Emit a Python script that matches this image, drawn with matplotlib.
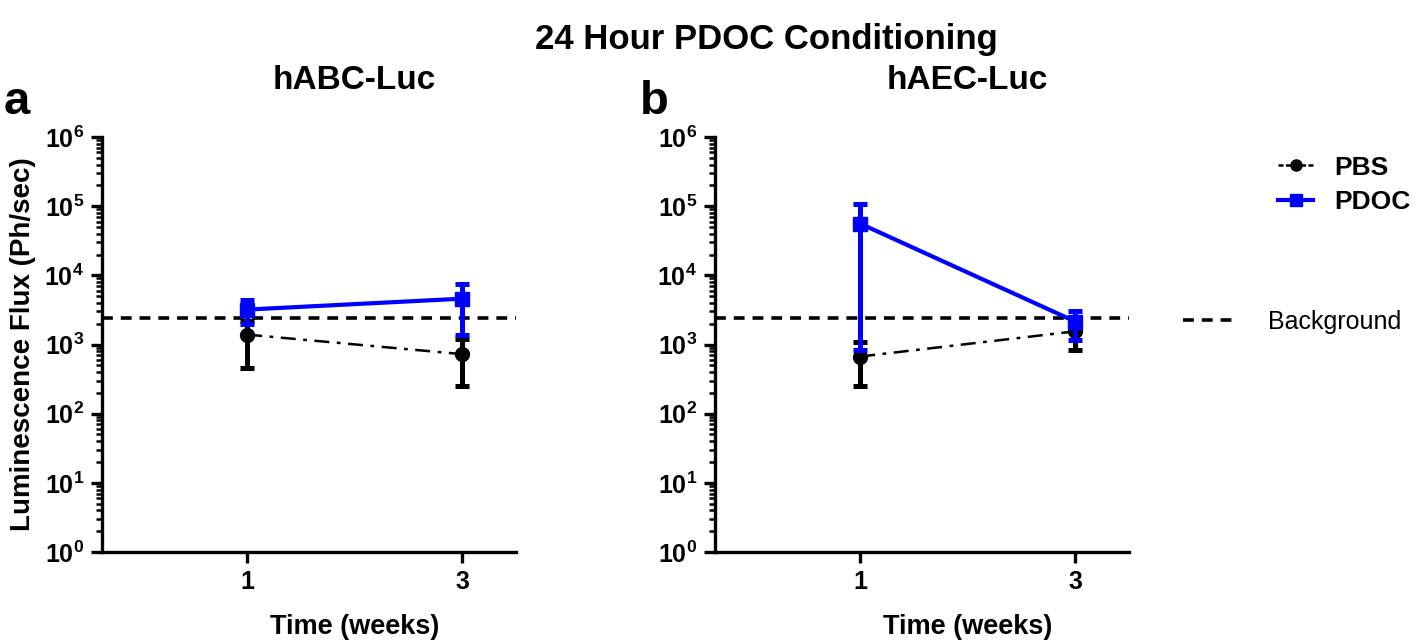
import numpy as np
import matplotlib
matplotlib.use("Agg")
import matplotlib.pyplot as plt
from matplotlib.lines import Line2D
from matplotlib.ticker import FixedLocator, LogLocator, NullFormatter

plt.rcParams["font.family"] = ["Liberation Sans", "DejaVu Sans"]
plt.rcParams["font.weight"] = "bold"
plt.rcParams["mathtext.fontset"] = "custom"
plt.rcParams["mathtext.rm"] = "Liberation Sans:bold"
plt.rcParams["mathtext.bf"] = "Liberation Sans:bold"
plt.rcParams["mathtext.it"] = "Liberation Sans:bold"

# data
weeks = [1, 3]
background = 2400

# panel a: hABC-Luc
a_pbs = [1390, 725]
a_pbs_lo = [465, 255]
a_pbs_hi = [2200, 1200]
a_pdoc = [3200, 4600]
a_pdoc_lo = [1950, 1350]
a_pdoc_hi = [4400, 7600]

# panel b: hAEC-Luc
b_pbs = [670, 1550]
b_pbs_lo = [255, 820]
b_pbs_hi = [1100, 2300]
b_pdoc = [56000, 2150]
b_pdoc_lo = [820, 1180]
b_pdoc_hi = [108000, 3100]

W, H = 1418, 643
fig = plt.figure(figsize=(W / 100, H / 100), dpi=100)


def make_axes(left_px):
    bottom, top = 552, 137
    return fig.add_axes([left_px / W, 1 - bottom / H, 414 / W, (bottom - top) / H])


def draw_panel(ax, pbs, pbs_lo, pbs_hi, pdoc, pdoc_lo, pdoc_hi, title):
    pbs = np.array(pbs)
    pdoc = np.array(pdoc)
    yerr_pbs = [pbs - np.array(pbs_lo), np.array(pbs_hi) - pbs]
    yerr_pdoc = [pdoc - np.array(pdoc_lo), np.array(pdoc_hi) - pdoc]

    ax.axhline(background, color="black", ls=(0, (3, 2.2)), lw=2.6, zorder=1)
    ax.errorbar(weeks, pbs, yerr=yerr_pbs, color="black", ls=(0, (6, 3, 1.5, 3)), lw=1.8,
                marker="o", ms=10, elinewidth=3.6, capsize=5, capthick=3.6, zorder=2)
    ax.errorbar(weeks, pdoc, yerr=yerr_pdoc, color="#0000ff", ls="-", lw=3,
                marker="s", ms=9.5, elinewidth=3.6, capsize=5, capthick=3.6, zorder=3)

    ax.set_yscale("log")
    ax.set_ylim(1, 1e6)
    ax.set_xlim(-0.35, 3.5)
    ax.set_xticks(weeks)
    ax.set_xticklabels([str(w) for w in weeks])
    ax.yaxis.set_major_locator(FixedLocator([10.0 ** k for k in range(7)]))
    ax.set_yticklabels([r"$10^{%d}$" % k for k in range(7)])
    ax.yaxis.set_minor_locator(LogLocator(base=10, subs=np.arange(2, 10), numticks=20))
    ax.yaxis.set_minor_formatter(NullFormatter())

    for side in ["top", "right"]:
        ax.spines[side].set_visible(False)
    for side in ["left", "bottom"]:
        ax.spines[side].set_linewidth(2.4)
    ax.tick_params(axis="both", which="major", width=2.4, length=8, labelsize=18, pad=5)
    ax.tick_params(axis="y", which="minor", width=1.8, length=4)

    # Prism centres these on the middle of the x range (x = 2)
    ax.text(2, 1.135, title, transform=ax.get_xaxis_transform(), ha="center",
            va="center", fontsize=24, fontweight="bold")
    ax.text(2, -0.18, "Time (weeks)", transform=ax.get_xaxis_transform(), ha="center",
            va="center", fontsize=19.5, fontweight="bold")


ax_a = make_axes(102)
ax_b = make_axes(715)
draw_panel(ax_a, a_pbs, a_pbs_lo, a_pbs_hi, a_pdoc, a_pdoc_lo, a_pdoc_hi, "hABC-Luc")
draw_panel(ax_b, b_pbs, b_pbs_lo, b_pbs_hi, b_pdoc, b_pdoc_lo, b_pdoc_hi, "hAEC-Luc")

ax_a.set_ylabel("Luminescence Flux (Ph/sec)", fontsize=20, fontweight="bold", labelpad=6)

fig.text(766 / W, 1 - 40 / H, "24 Hour PDOC Conditioning", ha="center", va="center",
         fontsize=25, fontweight="bold")
fig.text(4 / W, 1 - 102 / H, "a", ha="left", va="center", fontsize=34, fontweight="bold")
fig.text(640 / W, 1 - 102 / H, "b", ha="left", va="center", fontsize=34, fontweight="bold")

handles = [
    Line2D([], [], color="black", ls=(0, (2, 1)), lw=1.8, marker="o", ms=8),
    Line2D([], [], color="#0000ff", ls="-", lw=3, marker="s", ms=9),
]
fig.legend(handles, ["PBS", "PDOC"], loc="center left",
           bbox_to_anchor=(1278 / W, 1 - 185 / H), frameon=False, borderpad=0,
           borderaxespad=0, prop={"size": 19, "weight": "bold"}, handlelength=1.33,
           labelspacing=0.4, handletextpad=0.8)

bg_handle = [Line2D([], [], color="black", ls=(0, (3, 2.2)), lw=2.6)]
fig.legend(bg_handle, ["Background"], loc="center left",
           bbox_to_anchor=(1183 / W, 1 - 322 / H), frameon=False, borderpad=0,
           borderaxespad=0, prop={"size": 18, "weight": "normal"}, handlelength=2.2,
           handletextpad=1.2)

fig.savefig("out.png", dpi=100)
